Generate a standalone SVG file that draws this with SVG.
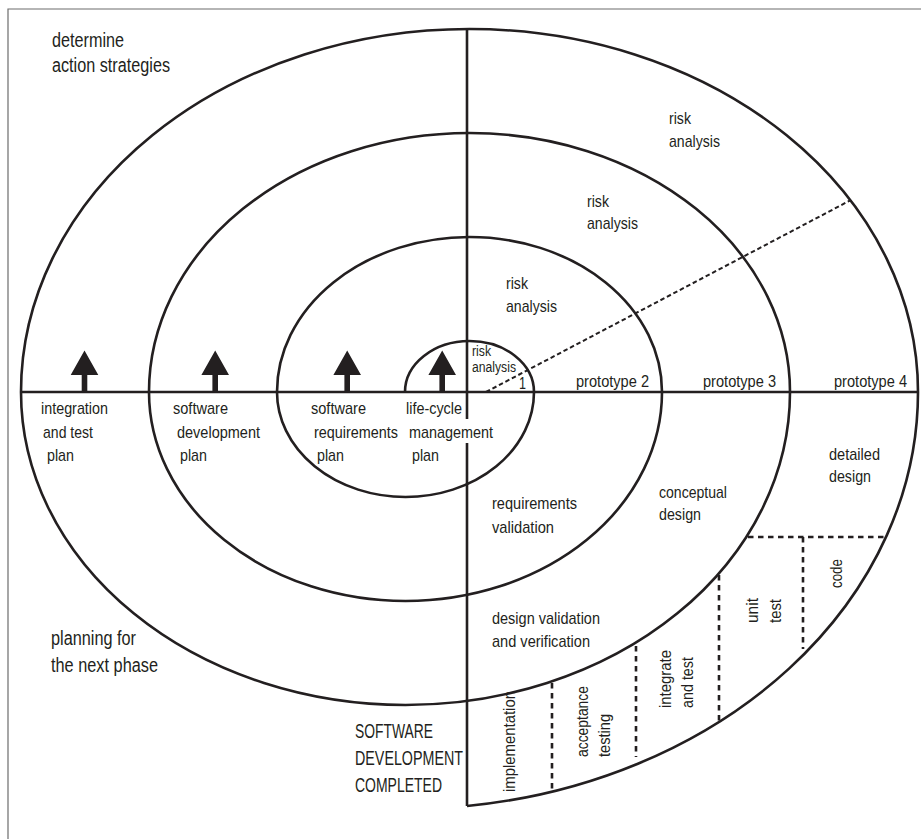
<svg xmlns="http://www.w3.org/2000/svg" width="921" height="839" viewBox="0 0 921 839">
  <style>
    .ln { fill: none; stroke: #231f20; stroke-width: 2.6; }
    .frame { fill: none; stroke: #6d6d6d; stroke-width: 1.2; }
    .dash { fill: none; stroke: #231f20; stroke-width: 2.6; stroke-dasharray: 5.5 4.5; }
    .fine { fill: none; stroke: #231f20; stroke-width: 2; stroke-dasharray: 4.5 2.8; }
    .arrow { fill: #231f20; }
    text { font-family: "Liberation Sans", Arial, sans-serif; fill: #231f20; font-size: 17px; }
    .big { font-size: 19.5px; }
    .small { font-size: 14px; }
    .caps { font-size: 21px; }
  </style>
  <defs>
    <path id="up-arrow" d="M0,-41.5 L13.8,-17 L2.8,-17 L2.8,0 L-2.8,0 L-2.8,-17 L-13.8,-17 Z"/>
  </defs>

  <!-- outer frame (left and top edges) -->
  <g id="frame">
    <path class="frame" d="M8,839 L8,9 L921,9"/>
  </g>

  <!-- quadrant axes; the vertical one is broken where it passes behind "management" -->
  <g id="axes">
    <line class="ln" x1="21" y1="392" x2="918" y2="392"/>
    <line class="ln" x1="467" y1="29" x2="467" y2="419"/>
    <line class="ln" x1="467" y1="443" x2="467" y2="806"/>
  </g>

  <!-- spiral: upper half-ellipses centred at x=469.5, lower halves at x=405.5 -->
  <g id="spiral">
    <path class="ln" d="M405,392 A64.5,51 0 0 1 534,392 A128.5,105 0 0 1 277,392 A192.5,155 0 0 1 662,392 A256.5,209 0 0 1 149,392 A320.5,259 0 0 1 790,392 A384.5,313 0 0 1 21,392 A448.5,363 0 0 1 918,392 A512.5,417 0 0 1 467,806"/>
  </g>

  <!-- connectors: prototype ray and the phase dividers of the last turn -->
  <g id="connectors">
    <line class="fine" x1="486" y1="392" x2="851" y2="200"/>
    <line class="dash" x1="748" y1="537" x2="887" y2="537"/>
    <line class="dash" x1="803" y1="537" x2="803" y2="649"/>
    <line class="dash" x1="719" y1="575" x2="719" y2="722"/>
    <line class="dash" x1="636" y1="646" x2="636" y2="757"/>
    <line class="dash" x1="552" y1="683" x2="552" y2="791"/>
  </g>

  <!-- plan arrows on the horizontal axis -->
  <g id="arrows">
    <use class="arrow" href="#up-arrow" x="84.5" y="392"/>
    <use class="arrow" href="#up-arrow" x="215.2" y="392"/>
    <use class="arrow" href="#up-arrow" x="347.2" y="392"/>
    <use class="arrow" href="#up-arrow" x="442.2" y="392"/>
  </g>

  <!-- quadrant titles -->
  <g id="quadrant-titles">
    <text class="big" x="52" y="47" textLength="72" lengthAdjust="spacingAndGlyphs">determine</text>
    <text class="big" x="52" y="72" textLength="118" lengthAdjust="spacingAndGlyphs">action strategies</text>
    <text class="big" x="51" y="645" textLength="85" lengthAdjust="spacingAndGlyphs">planning for</text>
    <text class="big" x="51" y="672" textLength="107" lengthAdjust="spacingAndGlyphs">the next phase</text>
  </g>

  <g id="completed">
    <text class="caps" x="355" y="738" textLength="78" lengthAdjust="spacingAndGlyphs">SOFTWARE</text>
    <text class="caps" x="355" y="765" textLength="108" lengthAdjust="spacingAndGlyphs">DEVELOPMENT</text>
    <text class="caps" x="355" y="792" textLength="87" lengthAdjust="spacingAndGlyphs">COMPLETED</text>
  </g>

  <!-- plans below the axis -->
  <g id="plan-integration">
    <text x="41" y="414" textLength="67" lengthAdjust="spacingAndGlyphs">integration</text>
    <text x="43" y="438" textLength="50" lengthAdjust="spacingAndGlyphs">and test</text>
    <text x="47" y="461" textLength="27" lengthAdjust="spacingAndGlyphs">plan</text>
  </g>
  <g id="plan-development">
    <text x="173" y="414" textLength="55" lengthAdjust="spacingAndGlyphs">software</text>
    <text x="177" y="438" textLength="83" lengthAdjust="spacingAndGlyphs">development</text>
    <text x="180" y="461" textLength="27" lengthAdjust="spacingAndGlyphs">plan</text>
  </g>
  <g id="plan-requirements">
    <text x="311" y="414" textLength="55" lengthAdjust="spacingAndGlyphs">software</text>
    <text x="314" y="438" textLength="84" lengthAdjust="spacingAndGlyphs">requirements</text>
    <text x="317" y="461" textLength="27" lengthAdjust="spacingAndGlyphs">plan</text>
  </g>
  <g id="plan-lifecycle">
    <text x="406" y="414" textLength="56" lengthAdjust="spacingAndGlyphs">life-cycle</text>
    <text x="409" y="438" textLength="84" lengthAdjust="spacingAndGlyphs">management</text>
    <text x="412" y="461" textLength="27" lengthAdjust="spacingAndGlyphs">plan</text>
  </g>

  <!-- risk analysis labels -->
  <g id="risk-1">
    <text class="small" x="472" y="356" textLength="19" lengthAdjust="spacingAndGlyphs">risk</text>
    <text class="small" x="472" y="372" textLength="44" lengthAdjust="spacingAndGlyphs">analysis</text>
  </g>
  <g id="risk-2">
    <text x="506" y="289" textLength="22" lengthAdjust="spacingAndGlyphs">risk</text>
    <text x="506" y="312" textLength="51" lengthAdjust="spacingAndGlyphs">analysis</text>
  </g>
  <g id="risk-3">
    <text x="587" y="207" textLength="22" lengthAdjust="spacingAndGlyphs">risk</text>
    <text x="587" y="229" textLength="51" lengthAdjust="spacingAndGlyphs">analysis</text>
  </g>
  <g id="risk-4">
    <text x="669" y="124" textLength="22" lengthAdjust="spacingAndGlyphs">risk</text>
    <text x="669" y="147" textLength="51" lengthAdjust="spacingAndGlyphs">analysis</text>
  </g>

  <!-- prototypes -->
  <g id="prototypes">
    <text x="519" y="389" textLength="7" lengthAdjust="spacingAndGlyphs">1</text>
    <text x="576" y="387" textLength="73" lengthAdjust="spacingAndGlyphs">prototype 2</text>
    <text x="703" y="387" textLength="73" lengthAdjust="spacingAndGlyphs">prototype 3</text>
    <text x="834" y="387" textLength="73" lengthAdjust="spacingAndGlyphs">prototype 4</text>
  </g>

  <!-- development stages -->
  <g id="stage-requirements">
    <text x="492" y="509" textLength="85" lengthAdjust="spacingAndGlyphs">requirements</text>
    <text x="492" y="533" textLength="62" lengthAdjust="spacingAndGlyphs">validation</text>
  </g>
  <g id="stage-design-validation">
    <text x="492" y="624" textLength="108" lengthAdjust="spacingAndGlyphs">design validation</text>
    <text x="492" y="647" textLength="98" lengthAdjust="spacingAndGlyphs">and verification</text>
  </g>
  <g id="stage-conceptual">
    <text x="659" y="498" textLength="68" lengthAdjust="spacingAndGlyphs">conceptual</text>
    <text x="659" y="520" textLength="42" lengthAdjust="spacingAndGlyphs">design</text>
  </g>
  <g id="stage-detailed">
    <text x="829" y="460" textLength="51" lengthAdjust="spacingAndGlyphs">detailed</text>
    <text x="829" y="482" textLength="42" lengthAdjust="spacingAndGlyphs">design</text>
  </g>

  <!-- rotated stage labels in the last turn -->
  <g id="stage-implementation">
    <text transform="translate(515,792) rotate(-90)" textLength="101" lengthAdjust="spacingAndGlyphs">implementation</text>
  </g>
  <g id="stage-acceptance">
    <text transform="translate(588,757) rotate(-90)" textLength="71" lengthAdjust="spacingAndGlyphs">acceptance</text>
    <text transform="translate(610,757) rotate(-90)" textLength="43" lengthAdjust="spacingAndGlyphs">testing</text>
  </g>
  <g id="stage-integrate">
    <text transform="translate(671,708) rotate(-90)" textLength="58" lengthAdjust="spacingAndGlyphs">integrate</text>
    <text transform="translate(693,708) rotate(-90)" textLength="51" lengthAdjust="spacingAndGlyphs">and test</text>
  </g>
  <g id="stage-unit-test">
    <text transform="translate(758,623) rotate(-90)" textLength="25" lengthAdjust="spacingAndGlyphs">unit</text>
    <text transform="translate(781,623) rotate(-90)" textLength="24" lengthAdjust="spacingAndGlyphs">test</text>
  </g>
  <g id="stage-code">
    <text transform="translate(842,588) rotate(-90)" textLength="29" lengthAdjust="spacingAndGlyphs">code</text>
  </g>
</svg>
